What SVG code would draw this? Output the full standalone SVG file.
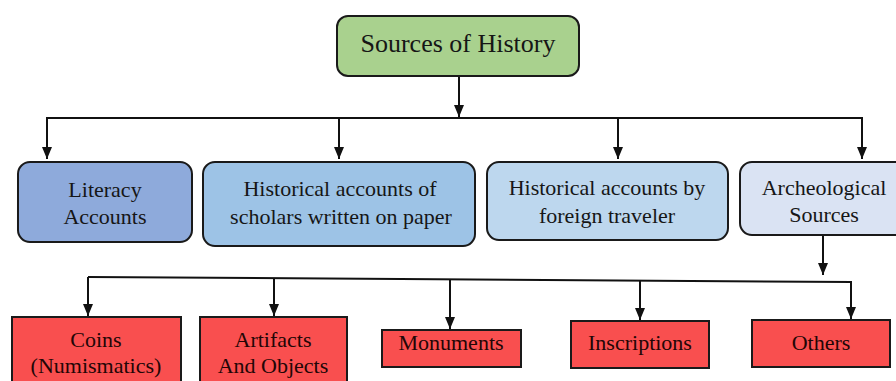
<svg xmlns="http://www.w3.org/2000/svg" width="896" height="381" viewBox="0 0 896 381">
<defs>
<marker id="ah" markerWidth="12" markerHeight="10" refX="12" refY="5" orient="auto" markerUnits="userSpaceOnUse" viewBox="0 0 12 10">
<path d="M0,0 L12,5 L0,10 Z" fill="#111"/>
</marker>
</defs>
<style>
text{font-family:"Liberation Serif","Times New Roman",serif}
.t{fill:#161616;text-anchor:middle;font-size:22px}
.r{fill:#f94f4f;stroke:#1a1a1a;stroke-width:2}
.rt{fill:#220606;text-anchor:middle;font-size:22px}
.b{stroke:#1a1a1a;stroke-width:2}
.c{fill:none;stroke:#111;stroke-width:2}
</style>
<rect width="896" height="381" fill="#fff"/>
<g id="connectors">
<line class="c" x1="459" y1="76" x2="459" y2="117" marker-end="url(#ah)"/>
<line class="c" x1="46" y1="118" x2="863" y2="118"/>
<line class="c" x1="47" y1="118" x2="47" y2="159" marker-end="url(#ah)"/>
<line class="c" x1="339" y1="118" x2="339" y2="159" marker-end="url(#ah)"/>
<line class="c" x1="618" y1="118" x2="618" y2="159" marker-end="url(#ah)"/>
<line class="c" x1="862" y1="118" x2="862" y2="159" marker-end="url(#ah)"/>
<line class="c" x1="823" y1="235" x2="823" y2="275" marker-end="url(#ah)"/>
<path class="c" d="M88,277 L852,282"/>
<line class="c" x1="88" y1="277" x2="88" y2="316" marker-end="url(#ah)"/>
<line class="c" x1="274" y1="278" x2="274" y2="316" marker-end="url(#ah)"/>
<line class="c" x1="450" y1="279" x2="450" y2="329" marker-end="url(#ah)"/>
<line class="c" x1="640" y1="280" x2="640" y2="320" marker-end="url(#ah)"/>
<line class="c" x1="851" y1="282" x2="851" y2="319" marker-end="url(#ah)"/>
</g>
<g id="root">
<rect class="b" x="337" y="16" width="242" height="60" rx="11" fill="#a9d18e"/>
<text class="t" x="458" y="52" style="font-size:26px">Sources of History</text>
</g>
<g id="literacy">
<rect class="b" x="18" y="162" width="174" height="80" rx="12" fill="#8eaadb"/>
<text class="t" x="105" y="197">Literacy</text>
<text class="t" x="105" y="224">Accounts</text>
</g>
<g id="scholars">
<rect class="b" x="203" y="162" width="272" height="84" rx="12" fill="#9dc3e6"/>
<text class="t" x="340" y="196">Historical accounts of</text>
<text class="t" x="341" y="224">scholars written on paper</text>
</g>
<g id="foreign">
<rect class="b" x="487" y="162" width="241" height="78" rx="12" fill="#bdd7ee"/>
<text class="t" x="607" y="195">Historical accounts by</text>
<text class="t" x="607" y="223">foreign traveler</text>
</g>
<g id="archeological">
<rect class="b" x="740" y="162" width="170" height="73" rx="12" fill="#dae3f3"/>
<text class="t" x="824" y="195">Archeological</text>
<text class="t" x="824" y="222">Sources</text>
</g>
<g id="coins">
<rect class="r" x="12" y="317" width="169" height="80"/>
<text class="rt" x="96" y="347">Coins</text>
<text class="rt" x="96" y="373">(Numismatics)</text>
</g>
<g id="artifacts">
<rect class="r" x="200" y="317" width="147" height="80"/>
<text class="rt" x="273" y="347">Artifacts</text>
<text class="rt" x="273" y="373">And Objects</text>
</g>
<g id="monuments">
<rect class="r" x="382" y="330" width="139" height="37"/>
<text class="rt" x="451" y="350">Monuments</text>
</g>
<g id="inscriptions">
<rect class="r" x="571" y="321" width="138" height="47"/>
<text class="rt" x="640" y="350">Inscriptions</text>
</g>
<g id="others">
<rect class="r" x="752" y="320" width="138" height="47"/>
<text class="rt" x="821" y="350">Others</text>
</g>
</svg>
